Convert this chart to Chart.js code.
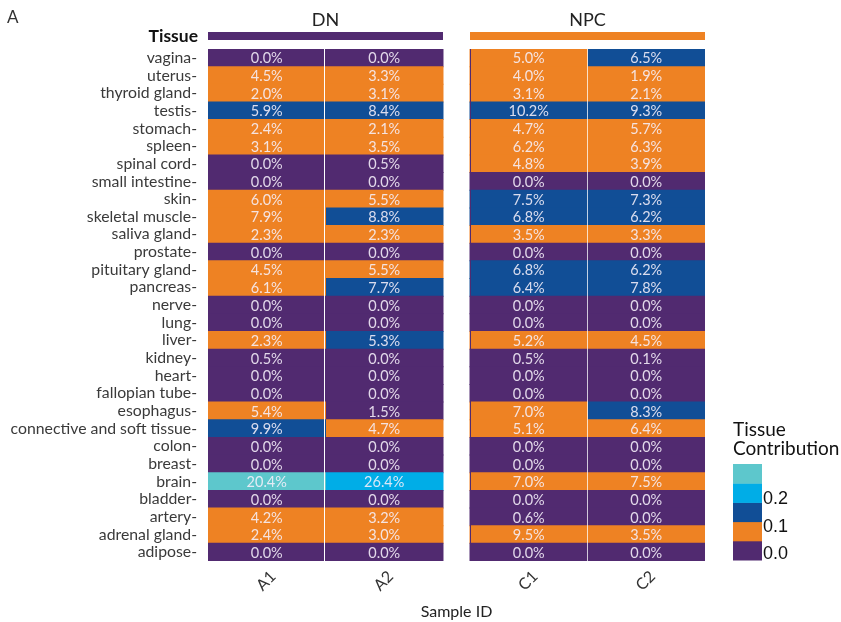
<!DOCTYPE html>
<html>
<head>
<meta charset="utf-8">
<script src="https://cdn.jsdelivr.net/npm/chart.js@4.4.1/dist/chart.umd.min.js"></script>
<style>
  html, body { margin: 0; padding: 0; background: #ffffff; }
  #wrap { width: 841px; height: 622px; position: relative; }
</style>
</head>
<body>
<div id="wrap"><canvas id="heat" width="841" height="622"></canvas></div>
<script>
// Tissues, listed top to bottom
const tissues = [
  'vagina', 'uterus', 'thyroid gland', 'testis', 'stomach', 'spleen', 'spinal cord',
  'small intestine', 'skin', 'skeletal muscle', 'saliva gland', 'prostate',
  'pituitary gland', 'pancreas', 'nerve', 'lung', 'liver', 'kidney', 'heart',
  'fallopian tube', 'esophagus', 'connective and soft tissue', 'colon', 'breast',
  'brain', 'bladder', 'artery', 'adrenal gland', 'adipose'
];
const sampleIds = ['A1', 'A2', 'C1', 'C2'];
const groupNames = ['DN', 'NPC'];
const groupColors = ['#512a70', '#ee8223'];

// Tissue contribution per sample (%)
const valA1 = [0.0, 4.5, 2.0, 5.9, 2.4, 3.1, 0.0, 0.0, 6.0, 7.9, 2.3, 0.0, 4.5, 6.1, 0.0, 0.0, 2.3, 0.5, 0.0, 0.0, 5.4, 9.9, 0.0, 0.0, 20.4, 0.0, 4.2, 2.4, 0.0];
const valA2 = [0.0, 3.3, 3.1, 8.4, 2.1, 3.5, 0.5, 0.0, 5.5, 8.8, 2.3, 0.0, 5.5, 7.7, 0.0, 0.0, 5.3, 0.0, 0.0, 0.0, 1.5, 4.7, 0.0, 0.0, 26.4, 0.0, 3.2, 3.0, 0.0];
const valC1 = [5.0, 4.0, 3.1, 10.2, 4.7, 6.2, 4.8, 0.0, 7.5, 6.8, 3.5, 0.0, 6.8, 6.4, 0.0, 0.0, 5.2, 0.5, 0.0, 0.0, 7.0, 5.1, 0.0, 0.0, 7.0, 0.0, 0.6, 9.5, 0.0];
const valC2 = [6.5, 1.9, 2.1, 9.3, 5.7, 6.3, 3.9, 0.0, 7.3, 6.2, 3.3, 0.0, 6.2, 7.8, 0.0, 0.0, 4.5, 0.1, 0.0, 0.0, 8.3, 6.4, 0.0, 0.0, 7.5, 0.0, 0.0, 3.5, 0.0];

// Colour bin of each cell (0 = lowest bin … 4 = highest bin)
const binA1 = [0, 1, 1, 2, 1, 1, 0, 0, 1, 1, 1, 0, 1, 1, 0, 0, 1, 0, 0, 0, 1, 2, 0, 0, 4, 0, 1, 1, 0];
const binA2 = [0, 1, 1, 2, 1, 1, 0, 0, 1, 2, 1, 0, 1, 2, 0, 0, 2, 0, 0, 0, 0, 1, 0, 0, 3, 0, 1, 1, 0];
const binC1 = [1, 1, 1, 2, 1, 1, 1, 0, 2, 2, 1, 0, 2, 2, 0, 0, 1, 0, 0, 0, 1, 1, 0, 0, 1, 0, 0, 1, 0];
const binC2 = [2, 1, 1, 2, 1, 1, 1, 0, 2, 2, 1, 0, 2, 2, 0, 0, 1, 0, 0, 0, 2, 1, 0, 0, 1, 0, 0, 1, 0];

// Legend tick labels
const legendTicks = ['0.0', '0.1', '0.2'];

const values = [valA1, valA2, valC1, valC2];
const bins = [binA1, binA2, binC1, binC2];
const palette = ['#512a70', '#ee8223', '#114e96', '#00ade7', '#5dc7cc'];

const FONT = 'Lato, "DejaVu Sans", sans-serif';
const GAP = 0.23;                       // space between the two panels, in column units
const colStart = [0, 1, 2 + GAP, 3 + GAP];
const groupRange = [[0, 2], [2 + GAP, 4 + GAP]];
const LABEL_SHIFT = 0.055;              // nudges the rotated sample labels under their column centres

const datasets = sampleIds.map((id, j) => ({
  label: id,
  data: tissues.map((t) => ({ y: t, x: [colStart[j], colStart[j] + 1] })),
  backgroundColor: bins[j].map((b) => palette[b]),
  borderWidth: 0,
  grouped: false,
  barPercentage: 1,
  categoryPercentage: 1,
  inflateAmount: 0.5
}));

// Percent labels inside each cell, column separators, panel strips, titles and the colour-bar legend
const decor = {
  id: 'decor',
  afterDatasetsDraw(chart) {
    const ctx = chart.ctx;
    const xs = chart.scales.x;
    const { top, bottom } = chart.chartArea;
    ctx.save();
    // thin edge on the left of the second panel
    const xL = Math.round(xs.getPixelForValue(groupRange[1][0])) + 0.5;
    ctx.strokeStyle = '#512a70';
    ctx.lineWidth = 1;
    ctx.beginPath(); ctx.moveTo(xL, top); ctx.lineTo(xL, bottom); ctx.stroke();
    // separators between the two samples of each panel
    [[1, '#ffffff'], [3 + GAP, 'rgba(255,255,255,0.75)']].forEach(([v, c]) => {
      const x = Math.round(xs.getPixelForValue(v)) - 0.5;
      ctx.strokeStyle = c;
      ctx.beginPath(); ctx.moveTo(x, top); ctx.lineTo(x, bottom); ctx.stroke();
    });

    ctx.font = '14.5px ' + FONT;
    ctx.fillStyle = 'rgba(246,240,250,0.88)';
    ctx.textAlign = 'center';
    ctx.textBaseline = 'middle';
    chart.data.datasets.forEach((ds, j) => {
      chart.getDatasetMeta(j).data.forEach((el, i) => {
        const p = el.getCenterPoint();
        ctx.fillText(values[j][i].toFixed(1) + '%', p.x, p.y + 1);
      });
    });
    ctx.restore();
  },
  afterDraw(chart) {
    const ctx = chart.ctx;
    const xs = chart.scales.x;
    const top = chart.chartArea.top;
    ctx.save();
    // group strips and titles
    groupRange.forEach((r, g) => {
      const x0 = xs.getPixelForValue(r[0]);
      const x1 = xs.getPixelForValue(r[1]);
      ctx.fillStyle = groupColors[g];
      ctx.fillRect(x0, top - 17, x1 - x0, 8);
      ctx.fillStyle = '#222222';
      ctx.font = '18px ' + FONT;
      ctx.textAlign = 'center';
      ctx.textBaseline = 'middle';
      ctx.fillText(groupNames[g], (x0 + x1) / 2, 20);
    });
    ctx.font = 'bold 17.5px ' + FONT;
    ctx.textAlign = 'right';
    ctx.textBaseline = 'middle';
    ctx.fillStyle = '#111111';
    ctx.fillText('Tissue', 198, 36);
    ctx.font = '17px ' + FONT;
    ctx.textAlign = 'left';
    ctx.fillStyle = '#333333';
    ctx.fillText('A', 7, 18);

    // colour-bar legend
    const lx = 733, lw = 29, ly = 464, lh = 96;
    const step = lh / palette.length;
    palette.forEach((c, k) => {
      ctx.fillStyle = c;
      ctx.fillRect(lx, ly + lh - (k + 1) * step, lw, step + 0.5);
    });
    ctx.fillStyle = '#111111';
    ctx.font = '19px ' + FONT;
    ctx.textAlign = 'left';
    ctx.textBaseline = 'middle';
    ctx.fillText('Tissue', 733, 430);
    ctx.fillText('Contribution', 733, 449);
    ctx.font = '18px "Liberation Sans", Arial, sans-serif';
    const tickY = [554, 527, 499];
    legendTicks.forEach((t, k) => ctx.fillText(t, 763, tickY[k]));
    ctx.restore();
  }
};

new Chart(document.getElementById('heat'), {
  type: 'bar',
  data: { labels: tissues, datasets },
  options: {
    indexAxis: 'y',
    responsive: false,
    animation: false,
    events: [],
    layout: { padding: { top: 49, right: 136, left: 0, bottom: 0 } },
    plugins: { legend: { display: false }, tooltip: { enabled: false } },
    scales: {
      x: {
        type: 'linear',
        position: 'bottom',
        min: 0,
        max: 4 + GAP,
        grid: { display: false, drawTicks: false },
        border: { display: false },
        afterBuildTicks: (s) => { s.ticks = colStart.map((v) => ({ value: v + 0.5 + LABEL_SHIFT })); },
        afterFit: (s) => { s.height = 61; },
        ticks: {
          autoSkip: false,
          minRotation: 45,
          maxRotation: 45,
          padding: 6,
          color: '#333333',
          font: { family: FONT, size: 16 },
          callback: (v, i) => sampleIds[i]
        },
        title: {
          display: true,
          text: 'Sample ID',
          color: '#222222',
          font: { family: FONT, size: 16 },
          padding: { top: 0, bottom: 1 }
        }
      },
      y: {
        type: 'category',
        labels: tissues,
        offset: true,
        grid: { display: false, drawTicks: false },
        border: { display: false },
        afterFit: (s) => { s.width = 208; },
        ticks: {
          padding: 11,
          autoSkip: false,
          font: { family: FONT, size: 15.8 },
          color: (c) => (c.tick && c.tick.label === 'brain') ? '#e0333f' : '#3a3a3a',
          callback: (v, i) => tissues[i] + '-'
        }
      }
    }
  },
  plugins: [decor]
});
</script>
</body>
</html>
